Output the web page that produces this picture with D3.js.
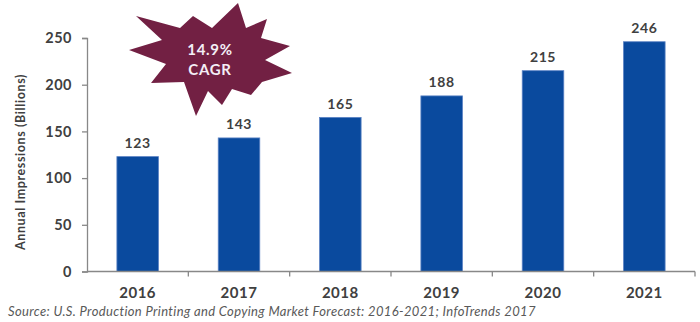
<!DOCTYPE html>
<html>
<head>
<meta charset="utf-8">
<script src="https://cdn.jsdelivr.net/npm/d3@7"></script>
<style>
  html, body { margin: 0; padding: 0; background: #fff; }
  svg { display: block; }
</style>
</head>
<body>
<svg id="chart" width="700" height="322"></svg>
<script>
const years = ["2016", "2017", "2018", "2019", "2020", "2021"];
const impressions = [123, 143, 165, 188, 215, 246];
const yTicks = [0, 50, 100, 150, 200, 250];
const yTitle = "Annual Impressions (Billions)";
const sourceText = "Source: U.S. Production Printing and Copying Market Forecast: 2016-2021; InfoTrends 2017";
const cagrLines = ["14.9%", "CAGR"];

(function () {
const svg = d3.select("#chart");
const plotL = 87, plotR = 695, plotT = 38, plotB = 271.5;
const font = "Lato, 'Open Sans', sans-serif";

const y = d3.scaleLinear().domain([0, 250]).range([plotB, plotT]);
const xCat = d3.scaleBand().domain(years).range([plotL, plotR]);
const xBar = d3.scaleBand().domain(years).range([plotL, plotR])
  .paddingInner(0.59).paddingOuter(0.295);

// bars
svg.append("g").selectAll("rect").data(years).join("rect")
  .attr("x", d => xBar(d))
  .attr("width", xBar.bandwidth())
  .attr("y", (d, i) => y(impressions[i]))
  .attr("height", (d, i) => y(0) - y(impressions[i]))
  .attr("fill", "#0A4A9E")
  .attr("stroke", "#5a82c4")
  .attr("stroke-width", 0.8);

// value labels
svg.append("g").selectAll("text").data(years).join("text")
  .attr("x", d => xBar(d) + xBar.bandwidth() / 2)
  .attr("y", (d, i) => y(impressions[i]) - 8.5)
  .attr("text-anchor", "middle")
  .attr("font-family", font).attr("font-weight", "bold")
  .attr("font-size", 14).attr("letter-spacing", 0.6).attr("fill", "#404040")
  .text((d, i) => impressions[i]);

// y axis
const yAxis = svg.append("g").attr("transform", `translate(${plotL},0)`)
  .call(d3.axisLeft(y).tickValues(yTicks).tickSize(5).tickPadding(10));
yAxis.select(".domain").attr("stroke", "#888").attr("stroke-width", 1.3);
yAxis.selectAll(".tick line").attr("stroke", "#888").attr("stroke-width", 1.3);
yAxis.selectAll(".tick text").attr("font-family", font).attr("font-weight", "bold")
  .attr("font-size", 14.5).attr("letter-spacing", 0.5).attr("fill", "#404040");

// x axis line & boundary ticks
const xg = svg.append("g");
xg.append("line").attr("x1", plotL).attr("x2", plotR)
  .attr("y1", plotB).attr("y2", plotB)
  .attr("stroke", "#888").attr("stroke-width", 1.3);
const bounds = years.map(d => xCat(d)).concat([xCat(years[years.length - 1]) + xCat.bandwidth()]);
xg.selectAll("line.tk").data(bounds.slice(1)).join("line").attr("class", "tk")
  .attr("x1", d => d).attr("x2", d => d)
  .attr("y1", plotB).attr("y2", plotB + 5)
  .attr("stroke", "#888").attr("stroke-width", 1.3);
xg.selectAll("text").data(years).join("text")
  .attr("x", d => xCat(d) + xCat.bandwidth() / 2)
  .attr("y", 298)
  .attr("text-anchor", "middle")
  .attr("font-family", font).attr("font-weight", "bold")
  .attr("font-size", 15).attr("letter-spacing", 0.5).attr("fill", "#404040")
  .text(d => d);

// y title
svg.append("text")
  .attr("transform", "translate(25,162) rotate(-90)")
  .attr("text-anchor", "middle")
  .attr("font-family", font).attr("font-weight", "bold")
  .attr("font-size", 12.5).attr("letter-spacing", 0.6).attr("fill", "#404040")
  .text(yTitle);

// source
svg.append("text")
  .attr("x", 8).attr("y", 316)
  .attr("font-family", font).attr("font-style", "italic")
  .attr("font-size", 13).attr("letter-spacing", 0.35).attr("fill", "#595959")
  .text(sourceText);

// CAGR starburst (decoration)
const starPts = [
  [238, 3], [246, 28], [267, 19], [261, 38], [290, 46], [265, 60],
  [292, 73], [262, 82], [251, 95], [232, 89], [222, 105], [208, 91],
  [196, 116], [184, 82], [151, 83], [166, 64], [129, 50], [162, 40],
  [136, 16], [180, 28], [193, 16], [212, 28]
];
svg.append("path")
  .attr("d", d3.line()(starPts) + "Z")
  .attr("fill", "#722043");
svg.append("g").selectAll("text").data(cagrLines).join("text")
  .attr("x", 210)
  .attr("y", (d, i) => 55 + i * 20)
  .attr("text-anchor", "middle")
  .attr("font-family", font).attr("font-weight", "bold")
  .attr("font-size", 15).attr("letter-spacing", 0.7).attr("fill", "#f4eef6")
  .text(d => d);
})();
</script>
</body>
</html>
